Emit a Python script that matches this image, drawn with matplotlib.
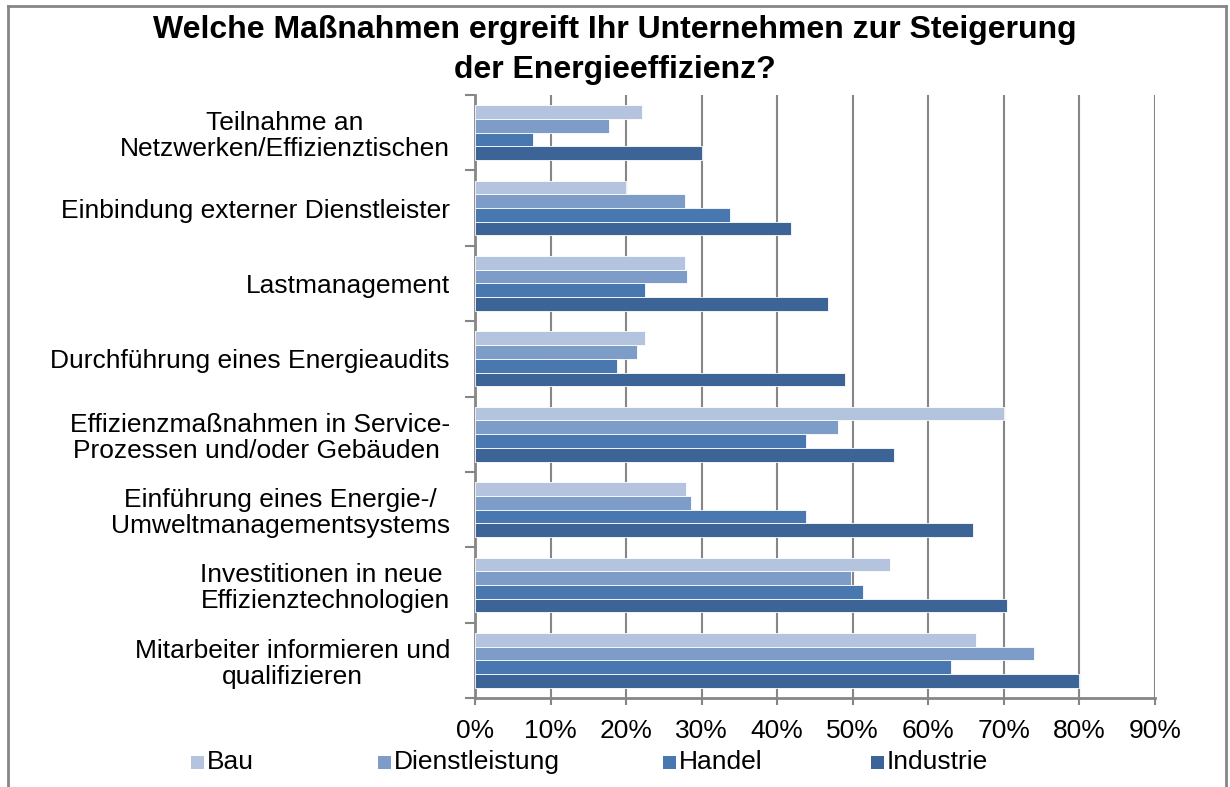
import matplotlib
matplotlib.use("Agg")
import matplotlib.pyplot as plt
from matplotlib.patches import Rectangle
from matplotlib.lines import Line2D
import numpy as np

plt.rcParams['font.family'] = ['Liberation Sans', 'DejaVu Sans']

# categories top to bottom
categories = [
    "Teilnahme an\nNetzwerken/Effizienztischen",
    "Einbindung externer Dienstleister",
    "Lastmanagement",
    "Durchführung eines Energieaudits",
    "Effizienzmaßnahmen in Service-\nProzessen und/oder Gebäuden ",
    "Einführung eines Energie-/\nUmweltmanagementsystems",
    "Investitionen in neue \nEffizienztechnologien",
    "Mitarbeiter informieren und\nqualifizieren",
]
series = ["Bau", "Dienstleistung", "Handel", "Industrie"]
bau = [22.1, 20.0, 27.8, 22.5, 70.0, 27.9, 54.9, 66.3]
dienstleistung = [17.8, 27.8, 28.1, 21.5, 48.1, 28.6, 49.7, 74.0]
handel = [7.7, 33.8, 22.5, 18.8, 43.8, 43.8, 51.4, 63.0]
industrie = [30.1, 41.8, 46.7, 49.0, 55.4, 65.9, 70.4, 80.0]
colors = ["#B4C3DE", "#7E9CC8", "#4878AF", "#3C6496"]
xticks = np.arange(0, 91, 10)

fig = plt.figure(figsize=(12.3, 7.87), dpi=100)
ax = fig.add_axes([475/1230, 1-698/787, 680/1230, 603/787])

y = np.arange(len(categories))
h = 0.182
for i, vals in enumerate([bau, dienstleistung, handel, industrie]):
    ax.barh(y + (i - 1.5) * h, vals, height=h, color=colors[i],
            edgecolor="white", linewidth=0.6, zorder=3)

ax.set_xlim(0, 90)
ax.set_ylim(len(categories) - 0.5, -0.5)
ax.set_xticks(xticks)
ax.set_xticklabels([f"{v}%" for v in xticks], fontsize=19)
ax.set_yticks(np.arange(-0.5, len(categories)))
ax.set_yticklabels([])
ax.set_yticks(y, minor=True)
ax.set_yticklabels(categories, minor=True, fontsize=19, multialignment="center",
                   linespacing=1.1)
ax.tick_params(axis="y", which="minor", length=0, pad=18)
ax.tick_params(axis="y", which="major", length=7, width=1.5, color="#868686")
ax.tick_params(axis="x", length=5, width=1.5, color="#868686", pad=10)
ax.grid(axis="x", color="#868686", linewidth=1.5, zorder=0)
for s in ["top", "right"]:
    ax.spines[s].set_visible(False)
for s in ["left", "bottom"]:
    ax.spines[s].set_color("#868686")
    ax.spines[s].set_linewidth(2)

fig.text(0.5, 1-30/787, "Welche Maßnahmen ergreift Ihr Unternehmen zur Steigerung",
         ha="center", va="center", fontsize=23, fontweight="bold")
fig.text(0.5, 1-70/787, "der Energieeffizienz?",
         ha="center", va="center", fontsize=23, fontweight="bold")

# legend
leg_x = [191, 378, 663, 871]
for i, name in enumerate(series):
    fig.patches.append(Rectangle((leg_x[i]/1230, 1-769/787), 13/1230, 13/787,
                                 transform=fig.transFigure, facecolor=colors[i],
                                 edgecolor="none"))
    fig.text((leg_x[i]+16)/1230, 1-762/787, name, ha="left", va="center", fontsize=19)

# outer frame
for xs, ys in [([8, 8], [787, 6]), ([8, 1226], [6, 6]), ([1226, 1226], [6, 787])]:
    fig.lines.append(Line2D([x/1230 for x in xs], [1-v/787 for v in ys],
                            transform=fig.transFigure, color="#868686", linewidth=2))

fig.savefig("out.png", dpi=100)
